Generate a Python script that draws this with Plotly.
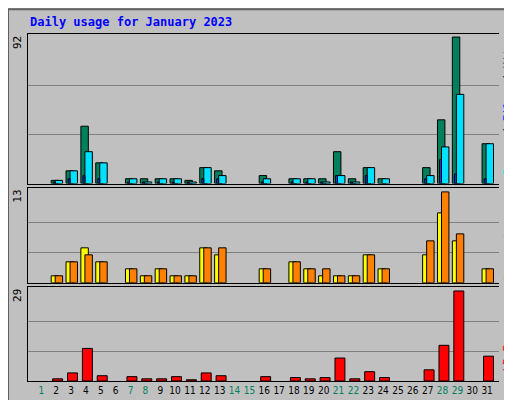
import plotly.graph_objects as go
from plotly.subplots import make_subplots

days = list(range(1, 32))
hits = [0, 2, 8, 36, 13, 0, 3, 3, 3, 3, 2, 10, 8, 0, 0, 5, 0, 3, 3, 3, 20, 3, 10, 3, 0, 0, 10, 40, 92, 0, 25]
files = [0, 2, 8, 20, 13, 0, 3, 1, 3, 3, 1, 10, 5, 0, 0, 3, 0, 3, 3, 1, 5, 1, 10, 3, 0, 0, 5, 23, 56, 0, 25]
pages = [0, 1, 3, 5, 3, 0, 1, 1, 1, 1, 1, 3, 3, 0, 0, 1, 0, 1, 1, 1, 5, 1, 5, 0, 0, 0, 3, 15, 6, 0, 3]
visits = [0, 1, 3, 5, 3, 0, 2, 1, 2, 1, 1, 5, 4, 0, 0, 2, 0, 3, 2, 1, 1, 1, 4, 2, 0, 0, 4, 10, 6, 0, 2]
sites = [0, 1, 3, 4, 3, 0, 2, 1, 2, 1, 1, 5, 5, 0, 0, 2, 0, 3, 2, 2, 1, 1, 4, 2, 0, 0, 6, 13, 7, 0, 2]
kbytes = [0, 0.7, 2.6, 10.5, 1.7, 0, 1.4, 0.7, 0.7, 1.4, 0.4, 2.6, 1.7, 0, 0, 1.4, 0, 1.1, 0.7, 1.1, 7.4, 0.7, 3, 1.1, 0, 0, 3.6, 11.5, 29, 0, 8]
weekend = {1, 7, 8, 14, 15, 21, 22, 28, 29}

fig = make_subplots(rows=3, cols=1, shared_xaxes=True)
ln = dict(color='black', width=1)

def bar(y, color, offset, width, row):
    # zero days draw nothing
    y = [v if v else None for v in y]
    fig.add_trace(go.Bar(x=days, y=y, offset=offset, width=width,
                         marker=dict(color=color, line=ln), showlegend=False), row=row, col=1)

bar(hits, '#00805C', -0.34, 0.5, 1)
bar(files, '#00E0FF', -0.07, 0.5, 1)
bar(pages, '#0040FF', -0.2, 0.13, 1)
bar(visits, '#FFFF00', -0.34, 0.5, 2)
bar(sites, '#FF8000', -0.07, 0.5, 2)
bar(kbytes, '#FF0000', -0.24, 0.67, 3)

fig.update_layout(
    width=512, height=400, barmode='overlay',
    paper_bgcolor='#C0C0C0', plot_bgcolor='#C0C0C0',
    margin=dict(l=20, r=21, t=26, b=24),
    font=dict(family='DejaVu Sans Mono', size=11, color='black'),
    yaxis=dict(domain=[0.569, 1.0], range=[0, 93.9]),
    yaxis2=dict(domain=[0.283, 0.557], range=[0, 13.6]),
    yaxis3=dict(domain=[0, 0.271], range=[0, 30.3]),
)
for r, m in [(1, 92), (2, 13), (3, 29)]:
    fig.update_yaxes(tickvals=[m / 3, 2 * m / 3], showticklabels=False, gridcolor='#808080',
                     zeroline=False, showline=True, linecolor='black', row=r, col=1)
ticktext = [f'<span style="color:{"#00805C" if d in weekend else "black"}">{d}</span>' for d in days]
fig.update_xaxes(range=[0.1, 31.8], tickvals=days, ticktext=ticktext, showgrid=False, tickangle=0,
                 tickfont=dict(size=10, family='DejaVu Sans Condensed'),
                 showline=True, linecolor='black', mirror=True, ticks='')
fig.update_xaxes(showticklabels=True, row=3, col=1)

fig.add_annotation(text='<b>Daily usage for January 2023</b>', xref='paper', yref='paper', x=-0.0, y=1.0,
                   xanchor='left', yanchor='bottom', yshift=3, showarrow=False,
                   font=dict(color='#0000FF', size=12))
for y0, txt in [(1.0, '92'), (0.557, '13'), (0.271, '29')]:
    fig.add_annotation(text=txt, xref='paper', yref='paper', x=0, y=y0, xanchor='right', yanchor='top',
                       textangle=-90, showarrow=False, xshift=-2, font=dict(size=11))
right = [
    (0.785, 'middle', '<span style="color:#00E0FF">Pages</span> / <span style="color:#0040FF">Files</span> / <span style="color:#00805C">Hits</span>'),
    (0.42, 'middle', '<span style="color:#FF8000">Sites</span> / <span style="color:#FFFF00">Visits</span>'),
    (0.02, 'bottom', '<span style="color:#FF0000">kB F</span>'),
]
for y0, ya, txt in right:
    fig.add_annotation(text=txt, xref='paper', yref='paper', x=1, y=y0, xanchor='center',
                       yanchor=ya, textangle=-90, showarrow=False,
                       xshift=9, font=dict(size=11))
fig.add_shape(type='rect', xref='paper', yref='paper', x0=-20 / 471, x1=1 + 20 / 471, y0=-23 / 350, y1=1 + 25 / 350,
              line=dict(color='#606060', width=2))

fig.write_html("out.html")
